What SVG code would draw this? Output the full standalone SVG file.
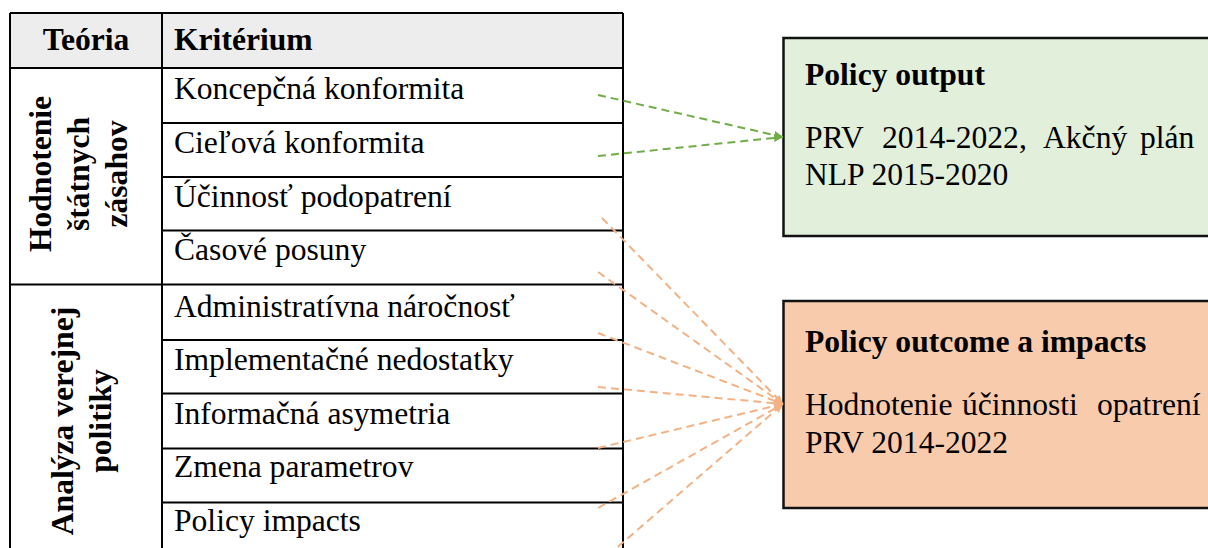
<svg xmlns="http://www.w3.org/2000/svg" width="1208" height="548" viewBox="0 0 1208 548">
<style>
.t{font-family:"Liberation Serif","Times New Roman",serif;font-size:31.6px;fill:#000}
.b{font-weight:bold}
.ln{stroke:#000;stroke-width:2;fill:none}
.g{stroke:#70ad47;stroke-width:2;stroke-dasharray:8 5;fill:none}
.o{stroke:#f4b183;stroke-width:2;stroke-dasharray:8 5;fill:none}
</style>
<defs>
<marker id="ag" markerWidth="9" markerHeight="8" refX="9" refY="4" orient="auto" markerUnits="userSpaceOnUse"><path d="M0,0 L9,4 L0,8 z" fill="#70ad47"/></marker>
<marker id="ao" markerWidth="9" markerHeight="8" refX="9" refY="4" orient="auto" markerUnits="userSpaceOnUse"><path d="M0,0 L9,4 L0,8 z" fill="#f4b183"/></marker>
</defs>
<rect width="1208" height="548" fill="#fff"/>
<g id="table">
<rect x="10" y="13" width="613" height="55" fill="#ededed"/>
<path class="ln" d="M10,13 H623 M10,13 V560 M623,13 V560 M162,13 V560 M10,68 H623 M10,284.5 H623 M162,123 H623 M162,177 H623 M162,230.5 H623 M162,340 H623 M162,393.5 H623 M162,448.5 H623 M162,502.5 H623"/>
<text class="t b" x="86" y="50" text-anchor="middle">Teória</text>
<text class="t b" x="174" y="50">Kritérium</text>
<text class="t b" text-anchor="middle" transform="translate(51,174) rotate(-90)">Hodnotenie</text>
<text class="t b" text-anchor="middle" transform="translate(89,174) rotate(-90)">štátnych</text>
<text class="t b" text-anchor="middle" transform="translate(127,174) rotate(-90)">zásahov</text>
<text class="t b" text-anchor="middle" transform="translate(73,421) rotate(-90)">Analýza verejnej</text>
<text class="t b" text-anchor="middle" transform="translate(111,421) rotate(-90)">politiky</text>
<text class="t" x="174" y="99">Koncepčná konformita</text>
<text class="t" x="174" y="153">Cieľová konformita</text>
<text class="t" x="174" y="207">Účinnosť podopatrení</text>
<text class="t" x="174" y="260">Časové posuny</text>
<text class="t" x="174" y="317">Administratívna náročnosť</text>
<text class="t" x="174" y="370">Implementačné nedostatky</text>
<text class="t" x="174" y="424">Informačná asymetria</text>
<text class="t" x="174" y="477">Zmena parametrov</text>
<text class="t" x="174" y="531">Policy impacts</text>
</g>
<g id="policy-output">
<rect x="783.5" y="38" width="460" height="198" fill="#e2efda" stroke="#111" stroke-width="2.5"/>
<text class="t b" x="805" y="85">Policy output</text>
<text class="t" y="148"><tspan x="805">PRV</tspan><tspan x="882">2014-2022,</tspan><tspan x="1043">Akčný</tspan><tspan x="1140">plán</tspan></text>
<text class="t" x="805" y="185">NLP 2015-2020</text>
</g>
<g id="policy-outcome">
<rect x="783.5" y="301" width="460" height="207" fill="#f8cbad" stroke="#111" stroke-width="2.5"/>
<text class="t b" x="805" y="352">Policy outcome a impacts</text>
<text class="t" y="415"><tspan x="805">Hodnotenie</tspan><tspan x="962">účinnosti</tspan><tspan x="1097">opatrení</tspan></text>
<text class="t" x="805" y="453">PRV 2014-2022</text>
</g>
<g id="connectors">
<line class="g" x1="598" y1="95" x2="783" y2="137" marker-end="url(#ag)"/>
<line class="g" x1="598" y1="156" x2="783" y2="137" marker-end="url(#ag)"/>
<line class="o" x1="602" y1="218" x2="783" y2="404" marker-end="url(#ao)"/>
<line class="o" x1="598" y1="272" x2="783" y2="404" marker-end="url(#ao)"/>
<line class="o" x1="598" y1="333" x2="783" y2="404" marker-end="url(#ao)"/>
<line class="o" x1="598" y1="387" x2="783" y2="404" marker-end="url(#ao)"/>
<line class="o" x1="598" y1="448" x2="783" y2="404" marker-end="url(#ao)"/>
<line class="o" x1="598" y1="508" x2="783" y2="404" marker-end="url(#ao)"/>
<line class="o" x1="598" y1="564" x2="783" y2="404" marker-end="url(#ao)"/>
</g>
</svg>
